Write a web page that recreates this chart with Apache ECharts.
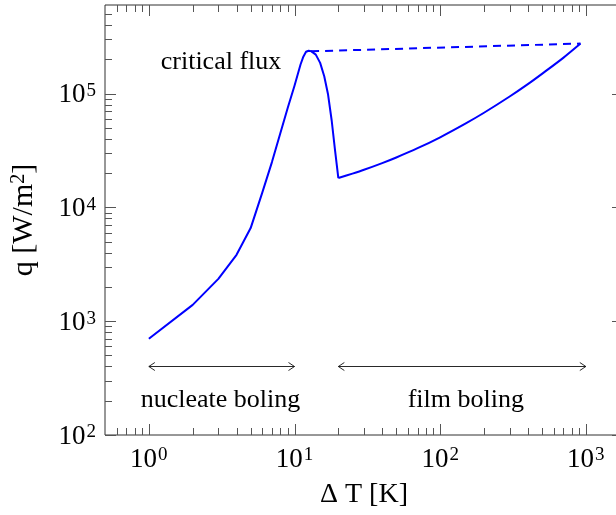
<!DOCTYPE html>
<html>
<head>
<meta charset="utf-8">
<script src="https://cdn.jsdelivr.net/npm/echarts@6/dist/echarts.min.js"></script>
<style>
  html, body { margin: 0; padding: 0; background: #fff; }
  #chart { width: 616px; height: 515px; }
</style>
</head>
<body>
<div id="chart"></div>
<script>
// Boiling curve: heat flux q against wall superheat ΔT (log-log)
// Nucleate and transition boiling, up to the Leidenfrost minimum
const nucleateT = [1, 2, 3, 4, 5, 6, 7, 8, 9, 10, 11, 11.5, 12, 12.5, 13, 14, 15, 16, 17, 18, 19, 20];
const nucleateQ = [700, 1390, 2355, 3830, 6580, 13400, 25000, 45000, 75300, 117000, 180000, 211000,
                   233000, 238000, 236000, 220000, 186000, 142000, 98000, 58000, 31300, 18100];
// Film boiling branch
const filmT = [20, 25, 30, 40, 50, 70, 100, 150, 200, 300, 400, 500, 700, 920];
const filmQ = [18100, 19800, 21400, 24500, 27450, 33100, 41300, 54700, 67800, 94200, 121000, 149000, 206000, 275000];

// Straight dashed link from the critical flux point to the end of the film branch
const dashT = [13, 920];
const dashQ = [235000, 275000];

// Regime arrows: [from ΔT, to ΔT, at q]
const arrowFrom = [1, 20];
const arrowTo = [10, 1000];
const arrowQ = [400, 400];

// Text annotations
const noteText = ['critical flux', 'nucleate boling', 'film boling'];
const noteT = [3.13, 3.1, 150];
const noteQ = [190000, 203, 203];

// Axis ranges and ticks
const X_MIN = 0.5, X_MAX = 1800;
const Y_MIN = 100, Y_MAX = 600000;
const xMajorTicks = [1, 10, 100, 1000];
const xMinorTicks = [0.6, 0.7, 0.8, 0.9, 2, 3, 4, 5, 6, 7, 8, 9, 20, 30, 40, 50, 60, 70, 80, 90,
                     200, 300, 400, 500, 600, 700, 800, 900];
const yMajorTicks = [100, 1000, 10000, 100000];
const yMinorTicks = [200, 300, 400, 500, 600, 700, 800, 900, 2000, 3000, 4000, 5000, 6000, 7000, 8000, 9000,
                     20000, 30000, 40000, 50000, 60000, 70000, 80000, 90000, 200000, 300000, 400000, 500000];
const xLabelExps = [0, 1, 2, 3];
const yLabelExps = [2, 3, 4, 5];

const FONT = "'Liberation Serif', 'DejaVu Serif', serif";
const INK = '#000';
const BLUE = '#0000ff';
const AXIS_COLOR = '#303030';
const MAJOR_LEN = 11, MINOR_LEN = 7;

function pairs(xs, ys) { return xs.map((x, i) => [x, ys[i]]); }

function powerLabel(exps) {
  return function (v) {
    const e = Math.log10(v);
    const r = Math.round(e);
    if (Math.abs(e - r) > 1e-6 || exps.indexOf(r) < 0) return '';
    return '{b|10}{s|' + r + '}';
  };
}

const labelRich = {
  b: { fontFamily: FONT, fontSize: 27, color: INK, lineHeight: 30, verticalAlign: 'bottom' },
  s: { fontFamily: FONT, fontSize: 19, color: INK, lineHeight: 27, verticalAlign: 'top', padding: [3, 0, 0, 1] }
};

const xTickData = xMajorTicks.map(v => [v, Y_MIN, 1]).concat(xMinorTicks.map(v => [v, Y_MIN, 0]));
const yTickData = yMajorTicks.map(v => [X_MIN, v, 1]).concat(yMinorTicks.map(v => [X_MIN, v, 0]));

function tickLine(x1, y1, x2, y2) {
  return { type: 'line', shape: { x1, y1, x2, y2 }, style: { stroke: '#555', lineWidth: 1 } };
}

const chart = echarts.init(document.getElementById('chart'), null, { renderer: 'canvas' });

chart.setOption({
  animation: false,
  backgroundColor: '#fff',
  textStyle: { fontFamily: FONT },
  grid: {
    left: 105, top: 5, width: 518, height: 430,
    containLabel: false, outerBoundsMode: 'none',
    show: true, borderColor: AXIS_COLOR, borderWidth: 1
  },
  xAxis: {
    type: 'log', logBase: 10, min: X_MIN, max: X_MAX,
    name: 'Δ T [K]', nameLocation: 'middle', nameGap: 46,
    nameTextStyle: { fontFamily: FONT, fontSize: 28, color: INK, verticalAlign: 'top' },
    axisLine: { show: false },
    axisTick: { show: false },
    splitLine: { show: false },
    axisLabel: { formatter: powerLabel(xLabelExps), rich: labelRich, margin: 8, showMinLabel: false, showMaxLabel: false }
  },
  yAxis: {
    type: 'log', logBase: 10, min: Y_MIN, max: Y_MAX,
    name: 'q [W/m{s|2}]', nameLocation: 'middle', nameGap: 66, nameRotate: 90,
    nameTextStyle: {
      fontFamily: FONT, fontSize: 30, color: INK,
      rich: { s: { fontFamily: FONT, fontSize: 20, verticalAlign: 'top', color: INK } }
    },
    axisLine: { show: false },
    axisTick: { show: false },
    splitLine: { show: false },
    axisLabel: { formatter: powerLabel(yLabelExps), rich: labelRich, margin: 9, showMinLabel: true, showMaxLabel: false }
  },
  series: [
    {
      name: 'nucleate',
      type: 'line',
      data: pairs(nucleateT, nucleateQ),
      showSymbol: false,
      smooth: false,
      lineStyle: { color: BLUE, width: 2, join: 'round' },
      z: 3
    },
    {
      name: 'film',
      type: 'line',
      data: pairs(filmT, filmQ),
      showSymbol: false,
      smooth: 0.3,
      lineStyle: { color: BLUE, width: 2, join: 'round' },
      z: 3
    },
    {
      name: 'critical link',
      type: 'line',
      data: pairs(dashT, dashQ),
      showSymbol: false,
      lineStyle: { color: BLUE, width: 2, type: [8, 6] },
      z: 3
    },
    {
      name: 'x ticks',
      type: 'custom',
      data: xTickData,
      encode: { x: 0, y: 1 },
      silent: true,
      renderItem: function (params, api) {
        const v = api.value(0);
        const len = api.value(2) === 1 ? MAJOR_LEN : MINOR_LEN;
        const b = api.coord([v, Y_MIN]);
        const t = api.coord([v, Y_MAX]);
        const x = Math.round(b[0]) + 0.5;
        return { type: 'group', children: [
          tickLine(x, b[1], x, b[1] - len),
          tickLine(x, t[1], x, t[1] + len)
        ] };
      },
      z: 4
    },
    {
      name: 'y ticks',
      type: 'custom',
      data: yTickData,
      encode: { x: 0, y: 1 },
      silent: true,
      renderItem: function (params, api) {
        const v = api.value(1);
        const len = api.value(2) === 1 ? MAJOR_LEN : MINOR_LEN;
        const l = api.coord([X_MIN, v]);
        const r = api.coord([X_MAX, v]);
        const y = Math.round(l[1]) + 0.5;
        return { type: 'group', children: [
          tickLine(l[0], y, l[0] + len, y),
          tickLine(r[0], y, r[0] - len, y)
        ] };
      },
      z: 4
    },
    {
      name: 'regime arrows',
      type: 'custom',
      data: arrowFrom.map((v, i) => [v, arrowQ[i]]),
      encode: { x: 0, y: 1 },
      silent: true,
      renderItem: function (params, api) {
        const i = params.dataIndex;
        const a = api.coord([arrowFrom[i], arrowQ[i]]);
        const b = api.coord([arrowTo[i], arrowQ[i]]);
        const y = Math.round(a[1]) + 0.5;
        const hw = 4, hl = 6;
        const st = { stroke: '#111', lineWidth: 0.9, fill: null };
        return { type: 'group', children: [
          { type: 'line', shape: { x1: a[0], y1: y, x2: b[0], y2: y }, style: st },
          { type: 'polyline', shape: { points: [[a[0] + hl, y - hw], [a[0], y], [a[0] + hl, y + hw]] }, style: st },
          { type: 'polyline', shape: { points: [[b[0] - hl, y - hw], [b[0], y], [b[0] - hl, y + hw]] }, style: st }
        ] };
      },
      z: 4
    },
    {
      name: 'notes',
      type: 'custom',
      data: noteT.map((v, i) => [v, noteQ[i]]),
      encode: { x: 0, y: 1 },
      silent: true,
      renderItem: function (params, api) {
        const i = params.dataIndex;
        const p = api.coord([noteT[i], noteQ[i]]);
        return {
          type: 'text',
          x: p[0], y: p[1],
          style: {
            text: noteText[i], fontFamily: FONT, fontSize: 26, fill: INK,
            align: 'center', verticalAlign: 'middle'
          }
        };
      },
      z: 5
    }
  ]
});
</script>
</body>
</html>
